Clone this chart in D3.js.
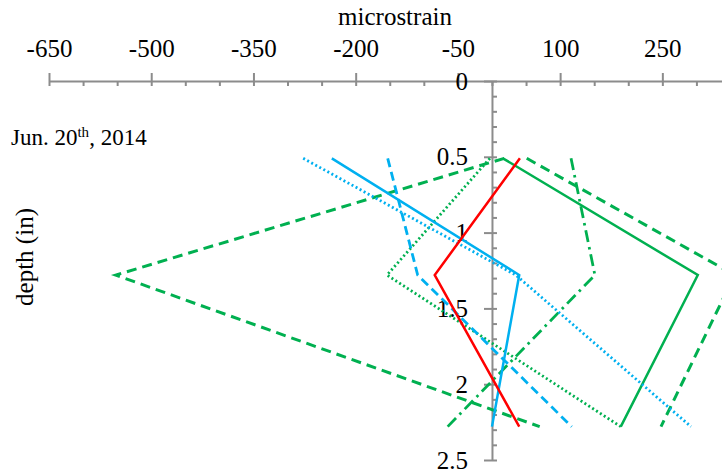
<!DOCTYPE html>
<html>
<head>
<meta charset="utf-8">
<script src="https://cdn.jsdelivr.net/npm/d3@7"></script>
<style>
  body { margin: 0; background: #fff; }
  svg text { font-family: "Liberation Serif", "Times New Roman", serif; fill: #000; }
</style>
</head>
<body>
<div id="graph"></div>
<script>
// depths (in) of the three gauges
const depths = [0.51, 1.28, 2.28];

// microstrain readings at each depth
const redSolid = [41, -84, 40];
const blueSolid = [-235, 40, 0];
const blueDotted = [-277, 35, 292];
const blueDashed = [-153, -109, 117];
const greenSolid = [16, 302, 189];
const greenDashedLeft = [18, -552, 70];
const greenDashedRight = [51, 356, 248];
const greenDotted = [-3, -154, 189];
const greenDashDot = [116, 151, -65];

const xMajorTicks = [-650, -500, -350, -200, -50, 100, 250];
const yMajorTicks = [0, 0.5, 1, 1.5, 2, 2.5];

let width = 722;
let height = 474;

let svg = d3.select("#graph")
    .append("svg")
    .attr("width", width)
    .attr("height", height);

let xScale = d3.scaleLinear().domain([-650, 350]).range([49, 730.5]);
let yScale = d3.scaleLinear().domain([0, 2.5]).range([81, 460]);

let axisColor = "#8c8c8c";

// x axis on top: minor ticks below, major ticks above with labels
let xMinor = d3.range(-650, 351, 50);
svg.append("g")
    .attr("transform", "translate(0," + yScale(0) + ")")
    .call(d3.axisBottom(xScale).tickValues(xMinor).tickSize(5).tickSizeOuter(0).tickFormat(""))
    .call(g => g.select(".domain").remove());

let xg = svg.append("g")
    .attr("transform", "translate(0," + yScale(0) + ")")
    .call(d3.axisTop(xScale).tickValues(xMajorTicks).tickSize(8).tickSizeOuter(0).tickPadding(16).tickFormat(d => String(d)));

// y axis at x = 0: minor ticks right, major ticks left with labels
let yMinor = d3.range(0, 2.51, 0.1);
svg.append("g")
    .attr("transform", "translate(" + xScale(0) + ",0)")
    .call(d3.axisRight(yScale).tickValues(yMinor).tickSize(5).tickSizeOuter(0).tickFormat(""))
    .call(g => g.select(".domain").remove());

let yg = svg.append("g")
    .attr("transform", "translate(" + xScale(0) + ",0)")
    .call(d3.axisLeft(yScale).tickValues(yMajorTicks).tickSize(8).tickSizeOuter(0).tickPadding(16).tickFormat(d => String(d)));

svg.selectAll(".tick text")
    .style("font-size", "25px");

svg.selectAll(".tick line, .domain")
    .attr("stroke", axisColor)
    .attr("stroke-width", 2);

// axis titles
svg.append("text")
    .attr("x", 395)
    .attr("y", 25)
    .attr("text-anchor", "middle")
    .style("font-size", "25px")
    .text("microstrain");

svg.append("text")
    .attr("transform", "translate(33,257) rotate(-90)")
    .attr("text-anchor", "middle")
    .style("font-size", "25px")
    .text("depth (in)");

let dateLabel = svg.append("text")
    .attr("x", 11)
    .attr("y", 145)
    .style("font-size", "23px");
dateLabel.append("tspan").text("Jun. 20");
dateLabel.append("tspan").style("font-size", "15px").attr("dy", "-8").text("th");
dateLabel.append("tspan").attr("dy", "8").text(", 2014");

// series
let blue = "#00b0f0", green = "#00b050", red = "#ff0000";

let series = [
    { values: greenDashedLeft, color: green, dash: "10 6", w: 3 },
    { values: greenDashedRight, color: green, dash: "10 6", w: 3 },
    { values: greenDotted, color: green, dash: "2 2.6", w: 2.8 },
    { values: greenDashDot, color: green, dash: "12 5 2.5 5", w: 2.8 },
    { values: greenSolid, color: green, dash: null, w: 2.5 },
    { values: blueDotted, color: blue, dash: "2 2.6", w: 2.8 },
    { values: blueDashed, color: blue, dash: "9 5", w: 2.8 },
    { values: blueSolid, color: blue, dash: null, w: 2.5 },
    { values: redSolid, color: red, dash: null, w: 2.5 }
];

let line = d3.line()
    .x(d => xScale(d.v))
    .y(d => yScale(d.depth));

svg.append("g")
    .selectAll("path")
    .data(series)
    .enter().append("path")
    .attr("d", s => line(s.values.map((v, i) => ({ v: v, depth: depths[i] }))))
    .attr("fill", "none")
    .attr("stroke", s => s.color)
    .attr("stroke-width", s => s.w)
    .attr("stroke-dasharray", s => s.dash)
    .attr("stroke-linejoin", "miter");
</script>
</body>
</html>
